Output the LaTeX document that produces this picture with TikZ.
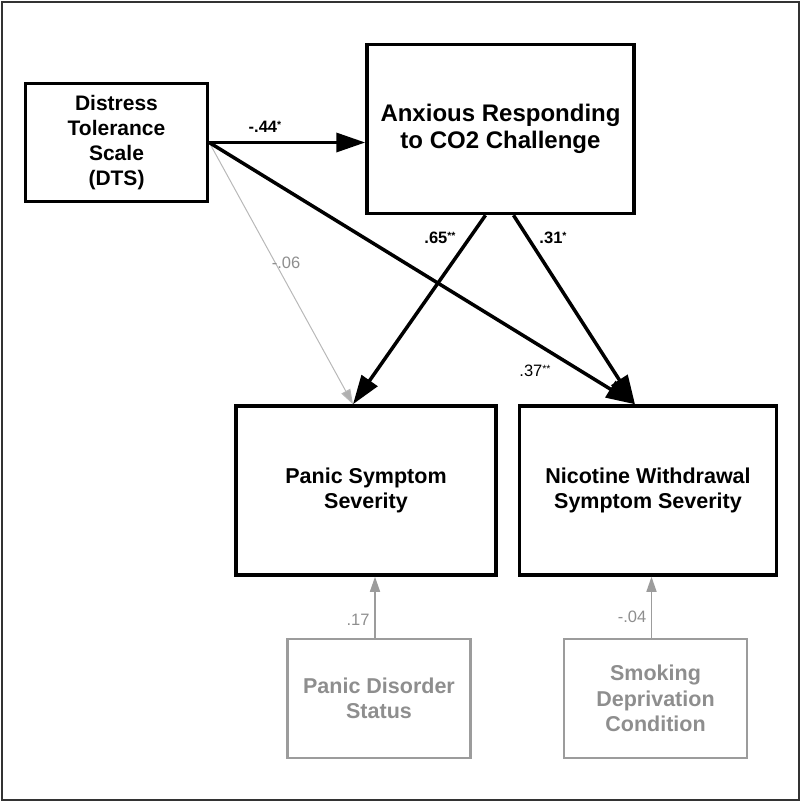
\documentclass[tikz,border=0pt]{standalone}
\usepackage{fontspec}
\setmainfont{Liberation Sans}
\usetikzlibrary{arrows.meta, positioning}

\definecolor{fadegray}{HTML}{9C9C9C}
\definecolor{fadetext}{HTML}{8E8E8E}
\definecolor{thingray}{HTML}{B8B8B8}
\newcommand{\pstar}[1]{\raisebox{4.5pt}{\fontsize{10.5}{10.5}\selectfont #1}}

\begin{document}
\begin{tikzpicture}[
  x=1pt, y=-1pt,
  node distance=20pt,
  box/.style={draw, line width=3.5pt, align=center, inner sep=0pt, font=\bfseries\fontsize{21.5}{25.5}\selectfont},
  covbox/.style={draw=fadegray, line width=2.5pt, text=fadetext, align=center, inner sep=0pt, minimum width=183pt, minimum height=119pt, font=\bfseries\fontsize{21.5}{25.5}\selectfont},
  arr/.style={line width=3.5pt, -{Triangle[length=29pt, width=19pt]}},
  thinarr/.style={line width=1pt, draw=thingray, -{Triangle[length=15pt, width=10pt, fill=fadegray!80]}},
  covarr/.style={line width=1.5pt, draw=fadegray, -{Triangle[length=15pt, width=10pt, fill=fadegray]}},
  lbl/.style={font=\bfseries\fontsize{16.5}{16.5}\selectfont, inner sep=0pt},
  glbl/.style={font=\fontsize{16.5}{16.5}\selectfont, text=fadetext, inner sep=0pt}
]
\useasboundingbox (0,0) rectangle (800,801);
\draw[line width=2pt, black!80] (1.5,1.5) rectangle (798.5,799.5);

\node[box, minimum width=182pt, minimum height=118pt, font=\bfseries\fontsize{21}{25}\selectfont] (dts) at (116.5,142.5) {Distress\\Tolerance\\Scale\\(DTS)};
\node[box, minimum width=267pt, minimum height=169pt, font=\bfseries\fontsize{24}{27}\selectfont, right=156pt of dts, yshift=13.5pt] (anx) {Anxious Responding\\to CO2 Challenge};

\node[box, minimum width=260pt, minimum height=169pt, below right=201pt and 25pt of dts.south east] (panic) {Panic Symptom\\Severity};
\node[box, minimum width=257pt, minimum height=169pt, right=20pt of panic] (nic) {Nicotine Withdrawal\\Symptom Severity};

\node[covbox, below right=61pt and 52pt of panic.south west] (pds) {Panic Disorder\\Status};
\node[covbox, right=91pt of pds] (smk) {Smoking\\Deprivation\\Condition};

\draw[arr] (dts.east) -- (dts.east -| anx.west);
\draw[thinarr] (dts.east) -- ([xshift=-13pt]panic.north);
\draw[arr] (dts.east) -- ([xshift=-13pt]nic.north);
\draw[arr] ([xshift=-15pt]anx.south) -- ([xshift=-13pt]panic.north);
\draw[arr] ([xshift=13pt]anx.south) -- ([xshift=-13pt]nic.north);
\draw[covarr] ([xshift=-4pt]pds.north) -- ([xshift=-4pt]pds.north |- panic.south);
\draw[covarr] ([xshift=-4pt]smk.north) -- ([xshift=-4pt]smk.north |- nic.south);

\node[lbl] (l44) at (265,127) {-.44\pstar{*}};
\node[lbl] (l65) at (440,238) {.65\pstar{**}};
\node[lbl] (l31) at (553,238) {.31\pstar{*}};
\node[lbl, font=\fontsize{16.5}{16.5}\selectfont] (l37) at (535,371) {.37\pstar{**}};
\node[glbl] (l06) at (286,263) {-.06};
\node[glbl] (l17) at (358,620) {.17};
\node[glbl] (l04) at (632,617) {-.04};
\end{tikzpicture}
\end{document}
